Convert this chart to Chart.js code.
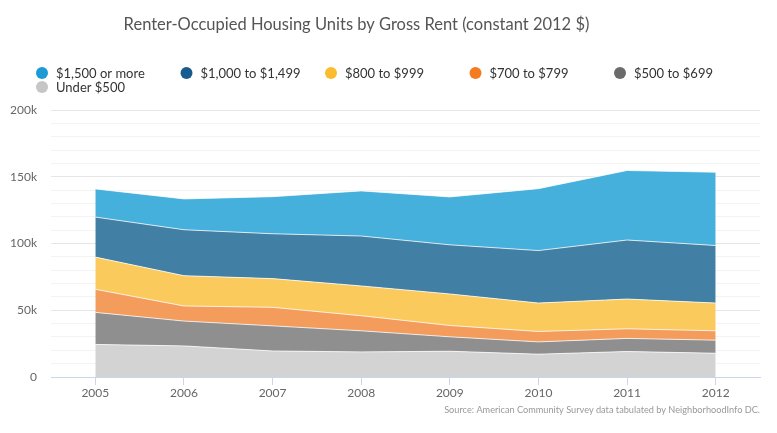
<!DOCTYPE html>
<html>
<head>
<meta charset="utf-8">
<script src="https://cdn.jsdelivr.net/npm/chart.js@4/dist/chart.umd.min.js"></script>
<style>
  html, body { margin: 0; padding: 0; background: #fff; }
  #wrap { width: 777px; height: 433px; position: relative; }
</style>
</head>
<body>
<div id="wrap"><canvas id="rentChart"></canvas></div>
<script>
// years and units per rent band (constant 2012 $)
const years = ['2005', '2006', '2007', '2008', '2009', '2010', '2011', '2012'];
const under500 = [24400, 23300, 19500, 18800, 19300, 17100, 19100, 17800];
const rent500to699 = [24000, 18600, 18800, 15800, 10800, 9200, 9800, 9800];
const rent700to799 = [17300, 11300, 13900, 11300, 8500, 7800, 7200, 7000];
const rent800to999 = [24100, 22700, 21500, 22300, 23600, 21300, 22300, 20800];
const rent1000to1499 = [30000, 34400, 33600, 37400, 36800, 39300, 44200, 43100];
const rent1500plus = [21100, 23100, 27800, 33800, 35900, 46400, 52100, 54900];
const yTickLabels = ['0', '50k', '100k', '150k', '200k'];

const titleText = 'Renter-Occupied Housing Units by Gross Rent (constant 2012 $)';
const sourceText = 'Source: American Community Survey data tabulated by NeighborhoodInfo DC.';

// legend order is top band first, like the original
const legendItems = [
    { text: '$1,500 or more', color: '#1b9ad6' },
    { text: '$1,000 to $1,499', color: '#175b8f' },
    { text: '$800 to $999', color: '#fdbb2f' },
    { text: '$700 to $799', color: '#f47b20' },
    { text: '$500 to $699', color: '#6b6b6b' },
    { text: 'Under $500', color: '#c6c6c6' }
];

const band = (label, data, fill, first) => ({
    label: label,
    data: data,
    backgroundColor: fill,
    borderColor: 'rgba(255, 255, 255, 0.75)',
    borderWidth: 1,
    pointRadius: 0,
    pointHoverRadius: 0,
    tension: 0,
    fill: first ? 'origin' : '-1'
});

// draws title, legend and source line on the canvas
const decorPlugin = {
    id: 'decor',
    afterDraw(chart) {
        const c = chart.ctx;
        c.save();
        c.textBaseline = 'middle';

        c.font = '16.5px Lato';
        c.fillStyle = '#555555';
        c.textAlign = 'center';
        c.fillText(titleText, 356.5, 25);

        c.font = '13px Lato';
        c.textAlign = 'left';
        legendItems.forEach((item, i) => {
            const col = i % 5;
            const row = Math.floor(i / 5);
            const x = 42 + col * 144.5;
            const y = 73 + row * 14;
            c.beginPath();
            c.arc(x, y, 6, 0, Math.PI * 2);
            c.fillStyle = item.color;
            c.fill();
            c.fillStyle = '#333333';
            c.fillText(item.text, x + 14, y + 0.5);
        });

        c.font = '9.2px Lato';
        c.fillStyle = '#999999';
        c.textAlign = 'right';
        c.fillText(sourceText, 760, 410);
        c.restore();
    }
};

const ctx = document.getElementById('rentChart').getContext('2d');
new Chart(ctx, {
    type: 'line',
    data: {
        labels: years,
        datasets: [
            band('Under $500', under500, '#d3d3d3', true),
            band('$500 to $699', rent500to699, '#8f8f8f'),
            band('$700 to $799', rent700to799, '#f49c5c'),
            band('$800 to $999', rent800to999, '#fbca5c'),
            band('$1,000 to $1,499', rent1000to1499, '#427fa4'),
            band('$1,500 or more', rent1500plus, '#46b0dc')
        ]
    },
    options: {
        responsive: true,
        maintainAspectRatio: false,
        animation: false,
        layout: { padding: { top: 110, right: 17, left: 0, bottom: 0 } },
        plugins: {
            legend: { display: false },
            title: { display: false },
            tooltip: { enabled: false }
        },
        scales: {
            x: {
                offset: true,
                afterFit: (scale) => { scale.height = 56; },
                grid: {
                    drawOnChartArea: false,
                    drawTicks: true,
                    tickLength: 8,
                    color: '#ccd6eb'
                },
                border: { color: '#ccd6eb', width: 1 },
                ticks: {
                    color: '#666666',
                    font: { family: 'Lato', size: 12 },
                    padding: 1
                }
            },
            y: {
                stacked: true,
                min: 0,
                max: 200000,
                afterFit: (scale) => { scale.width = 51; },
                border: { display: false },
                grid: {
                    drawTicks: false,
                    color: (g) => (g.tick && g.tick.value % 50000 === 0) ? '#e6e6e6' : '#f3f3f3'
                },
                ticks: {
                    stepSize: 10000,
                    autoSkip: false,
                    color: '#666666',
                    font: { family: 'Lato', size: 12 },
                    padding: 14,
                    callback: (v) => (v % 50000 === 0) ? yTickLabels[v / 50000] : ''
                }
            }
        }
    },
    plugins: [decorPlugin]
});
</script>
</body>
</html>
